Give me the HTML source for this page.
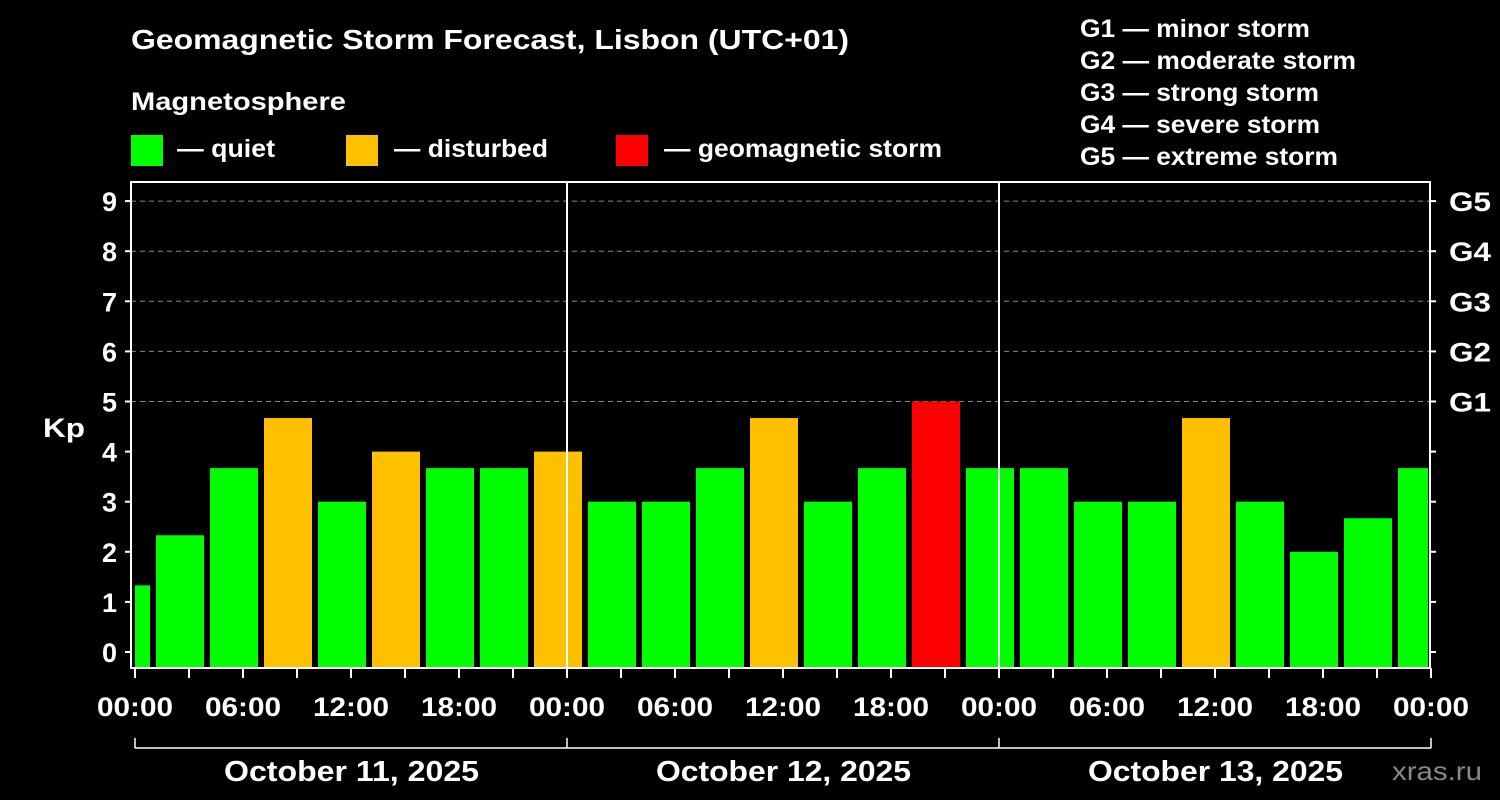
<!DOCTYPE html>
<html><head><meta charset="utf-8"><style>
html,body{margin:0;padding:0;background:#000;}
svg{display:block;font-family:"Liberation Sans",Arial,sans-serif;font-weight:bold;}
</style></head><body>
<svg id="chart" width="1500" height="800" viewBox="0 0 1500 800">
<rect width="1500" height="800" fill="#000"/>
<text x="131" y="49" fill="#fff" font-size="28" textLength="718" lengthAdjust="spacingAndGlyphs">Geomagnetic Storm Forecast, Lisbon (UTC+01)</text>
<text x="131" y="110" fill="#fff" font-size="25" textLength="215" lengthAdjust="spacingAndGlyphs">Magnetosphere</text>
<g><rect x="131" y="135" width="32" height="31" fill="#00ff00"/><text x="177" y="157" fill="#fff" font-size="25" textLength="98" lengthAdjust="spacingAndGlyphs">— quiet</text></g>
<g><rect x="346" y="135" width="32" height="31" fill="#ffc000"/><text x="394" y="157" fill="#fff" font-size="25" textLength="154" lengthAdjust="spacingAndGlyphs">— disturbed</text></g>
<g><rect x="616" y="135" width="32" height="31" fill="#ff0000"/><text x="664" y="157" fill="#fff" font-size="25" textLength="278" lengthAdjust="spacingAndGlyphs">— geomagnetic storm</text></g>
<g fill="#fff" font-size="25">
<text x="1080" y="37" textLength="230" lengthAdjust="spacingAndGlyphs">G1 — minor storm</text>
<text x="1080" y="69" textLength="276" lengthAdjust="spacingAndGlyphs">G2 — moderate storm</text>
<text x="1080" y="101" textLength="239" lengthAdjust="spacingAndGlyphs">G3 — strong storm</text>
<text x="1080" y="133" textLength="240" lengthAdjust="spacingAndGlyphs">G4 — severe storm</text>
<text x="1080" y="165" textLength="258" lengthAdjust="spacingAndGlyphs">G5 — extreme storm</text>
</g>
<text x="43" y="437" fill="#fff" font-size="27" textLength="42" lengthAdjust="spacingAndGlyphs">Kp</text>
<text x="1392" y="780" fill="#888" font-size="26" textLength="90" lengthAdjust="spacingAndGlyphs" style="font-weight:normal">xras.ru</text>
<g id="grid"></g><g id="bars"></g><g id="axes"></g>
</svg>
<script>
const kpValues=[1.33,2.33,3.67,4.67,3,4,3.67,3.67,4,3,3,3.67,4.67,3,3.67,5,3.67,3.67,3,3,4.67,3,2,2.67,3.67];
const yTicks=[0,1,2,3,4,5,6,7,8,9];
const gLabels=["G1","G2","G3","G4","G5"];
const xTickLabels=["00:00","06:00","12:00","18:00","00:00","06:00","12:00","18:00","00:00","06:00","12:00","18:00","00:00"];
const dayLabels=["October 11, 2025","October 12, 2025","October 13, 2025"];
const NS="http://www.w3.org/2000/svg";
const L=131,R=1430,T=182,B=668,x0=135,pxH=18;
const y=v=>652-v*50.1;
const x=h=>x0+h*pxH;
function mk(tag,a,parent){const e=document.createElementNS(NS,tag);for(const k in a)e.setAttribute(k,a[k]);parent.appendChild(e);return e;}
const grid=document.getElementById('grid'),bars=document.getElementById('bars'),axes=document.getElementById('axes');
[5,6,7,8,9].forEach(v=>{const l=mk('line',{x1:L,x2:R,y1:y(v),y2:y(v),stroke:'#888','stroke-dasharray':'5,4','stroke-width':1},grid);

});
kpValues.forEach((v,i)=>{const h0=-2+i*3,h1=h0+3;let a=Math.max(x(h0)+3,L+4),b=Math.min(x(h1)-3,R-2);
const c=v>=5?'#ff0000':(v>=4?'#ffc000':'#00ff00');
const r=mk('rect',{x:a,y:y(v),width:b-a,height:667-y(v),fill:c},bars);

});
[567,999].forEach(xx=>{const l=mk('line',{x1:xx,x2:xx,y1:T,y2:B,stroke:'#fff','stroke-width':2},axes);

});
const fr=mk('rect',{x:L,y:T,width:R-L,height:B-T,fill:'none',stroke:'#fff','stroke-width':2},axes);


yTicks.forEach(v=>{mk('line',{x1:L-6,x2:L,y1:y(v),y2:y(v),stroke:'#fff','stroke-width':2},axes);
mk('line',{x1:R,x2:R+6,y1:y(v),y2:y(v),stroke:'#fff','stroke-width':2},axes);
const t=mk('text',{x:L-14,y:y(v)+10,fill:'#fff','font-size':27,'text-anchor':'end'},axes);t.textContent=v;

});
gLabels.forEach((g,i)=>{const t=mk('text',{x:1449,y:y(5+i)+10,fill:'#fff','font-size':27,textLength:42,lengthAdjust:'spacingAndGlyphs'},axes);t.textContent=g;

});
for(let h=0;h<=72;h+=3){mk('line',{x1:x(h),x2:x(h),y1:B,y2:B+10,stroke:'#fff','stroke-width':2},axes);}
xTickLabels.forEach((s,i)=>{const t=mk('text',{x:x(i*6)-38,y:716,fill:'#fff','font-size':27,textLength:76,lengthAdjust:'spacingAndGlyphs'},axes);t.textContent=s;

});
mk('line',{x1:x(0),x2:x(72),y1:748,y2:748,stroke:'#fff','stroke-width':1.5},axes);
[0,24,48,72].forEach(h=>mk('line',{x1:x(h),x2:x(h),y1:738,y2:748,stroke:'#fff','stroke-width':1.5},axes));
dayLabels.forEach((s,i)=>{const t=mk('text',{x:x(i*24+12)-127,y:781,fill:'#fff','font-size':29,textLength:255,lengthAdjust:'spacingAndGlyphs'},axes);t.textContent=s;

});
</script>
</body></html>
